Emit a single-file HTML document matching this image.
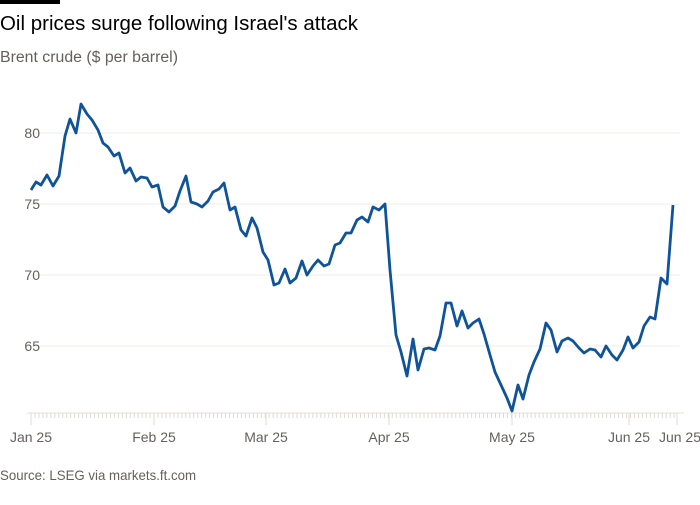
<!DOCTYPE html>
<html><head><meta charset="utf-8"><style>
body{margin:0;background:#fff;width:700px;height:500px;overflow:hidden;font-family:"Liberation Sans",sans-serif}
</style></head><body>
<svg width="700" height="500" viewBox="0 0 700 500" xmlns="http://www.w3.org/2000/svg" font-family="Liberation Sans, sans-serif">
<rect x="0" y="0" width="60" height="4" fill="#000"/>
<text x="0" y="30" font-size="20.5" fill="#000" textLength="358" lengthAdjust="spacingAndGlyphs">Oil prices surge following Israel's attack</text>
<text x="0" y="62" font-size="15.5" fill="#66605c" textLength="178" lengthAdjust="spacingAndGlyphs">Brent crude ($ per barrel)</text>
<g stroke="#f0ebe6" stroke-width="1">
<line x1="30" y1="133" x2="680" y2="133"/><line x1="30" y1="204" x2="680" y2="204"/>
<line x1="30" y1="275" x2="680" y2="275"/><line x1="30" y1="346" x2="680" y2="346"/>
</g>
<g font-size="14" fill="#66605c" text-anchor="end">
<text x="40" y="138">80</text><text x="40" y="209">75</text><text x="40" y="280">70</text><text x="40" y="351">65</text>
</g>
<line x1="27" y1="413" x2="684" y2="413" stroke="#e6e0db"/>
<g id="ticks" stroke="#e0dad5"></g>
<g font-size="14" fill="#66605c" text-anchor="middle">
<text x="31" y="442">Jan 25</text><text x="154" y="442">Feb 25</text><text x="266" y="442">Mar 25</text>
<text x="389" y="442">Apr 25</text><text x="512" y="442">May 25</text><text x="629" y="442">Jun 25</text><text x="680" y="442">Jun 25</text>
</g>
<text x="0" y="480" font-size="14" fill="#66605c" textLength="196" lengthAdjust="spacingAndGlyphs">Source: LSEG via markets.ft.com</text>
<polyline fill="none" stroke="#0f5499" stroke-width="2.8" stroke-linejoin="round" points="31,190 36,182 41,185 47,175 53,186 59,176 65,136 70,119 76,133 81,104 87,114 92,120 98,130 103,143 108,147 114,156 119,153 125,173 130,168 136,181 141,177 147,178 152,187 158,185 163,207 169,212 175,206 180,191 186,176 191,202 197,204 202,207 208,201 213,192 219,189 224,183 230,210 235,207 241,230 246,236 252,218 257,228 263,252 268,260 274,285 279,283 285,269 290,283 296,278 302,261 307,275 313,266 318,260 324,266 329,264 335,245 340,243 346,233 351,233 357,220 362,217 368,222 373,207 379,210 385,204 390,270 396,335 401,352 407,376 413,339 418,370 424,349 429,348 435,350 440,336 446,303 451,303 457,326 462,311 468,328 473,323 479,319 484,334 490,355 495,372 501,385 507,398 512,411 518,385 523,399 529,375 534,362 540,349 546,323 551,330 557,352 562,341 568,338 573,341 579,348 584,353 590,349 595,350 601,357 606,346 612,355 617,360 623,350 628,337 633,348 639,342 644,326 650,317 655,319 661,278 667,284 673,205"/>
</svg>
<script>
var g=document.getElementById('ticks'),s='';
for(var x=31;x<=677;x+=3.97){s+='<line x1="'+x+'" y1="413" x2="'+x+'" y2="418"/>';}
[31,154,266,389,512,629,677].forEach(function(x){s+='<line x1="'+x+'" y1="413" x2="'+x+'" y2="425"/>';});
g.innerHTML=s;
</script>
</body></html>
